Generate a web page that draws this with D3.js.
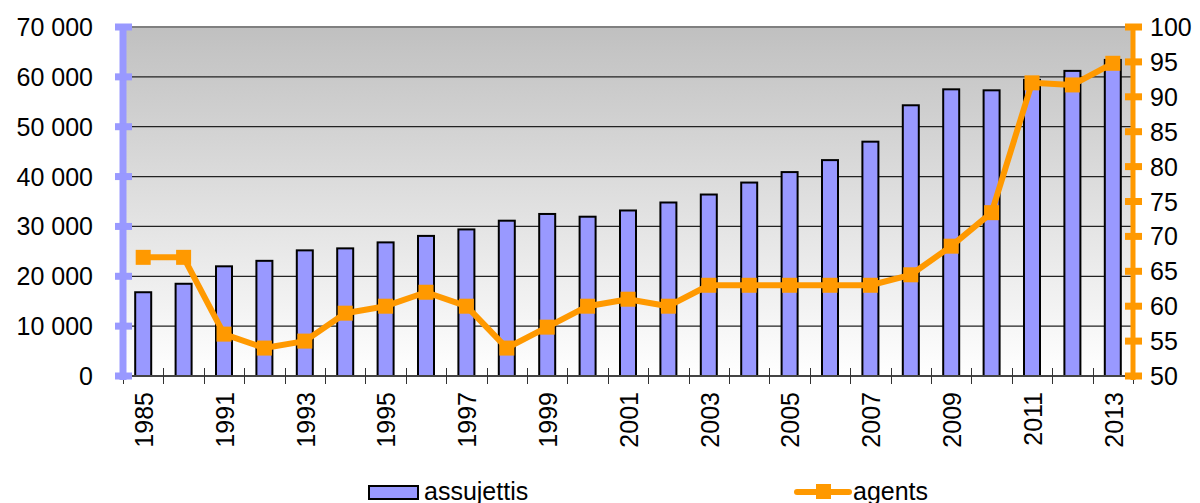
<!DOCTYPE html>
<meta charset="utf-8">
<style>
  body { margin: 0; background: #fff; }
  text { font-family: "Liberation Sans", Arial, sans-serif; fill: #000; }
  .grid line { stroke: #222; stroke-width: 1.2; }
  .bar { fill: #9999ff; stroke: #000; stroke-width: 2; }
  .agents { fill: none; stroke: #ff9900; stroke-width: 6; stroke-linejoin: round; }
  .marker { fill: #ff9900; }
</style>
<body>
<script src="https://d3js.org/d3.v7.min.js"></script>
<script>

  var years = ["1985", "1990", "1991", "1992", "1993", "1994", "1995", "1996", "1997", "1998",
    "1999", "2000", "2001", "2002", "2003", "2004", "2005", "2006", "2007", "2008",
    "2009", "2010", "2011", "2012", "2013"];
  var assujettis = [16800, 18500, 22000, 23100, 25200, 25600, 26800, 28100, 29400, 31150,
    32500, 31950, 33200, 34800, 36400, 38800, 40900, 43300, 47000, 54300,
    57500, 57300, 59400, 61200, 63400];
  var agents = [67, 67, 56, 54, 55, 59, 60, 62, 60, 54,
    57, 60, 61, 60, 63, 63, 63, 63, 63, 64.5,
    68.6, 73.4, 92, 91.7, 94.8];
  var leftTicks = [0, 10000, 20000, 30000, 40000, 50000, 60000, 70000];
  var rightTicks = [50, 55, 60, 65, 70, 75, 80, 85, 90, 95, 100];
  var xLabels = ["1985", "1991", "1993", "1995", "1997", "1999", "2001", "2003",
    "2005", "2007", "2009", "2011", "2013"];

  var width = 1200, height = 503,
    plotL = 123, plotR = 1133, plotT = 27, plotB = 376;

  var x = d3.scaleBand().domain(years).range([plotL, plotR]).padding(0);
  var y = d3.scaleLinear().domain([0, 70000]).range([plotB, plotT]);
  var y2 = d3.scaleLinear().domain([50, 100]).range([plotB, plotT]);

  var fmt = function (d) { return d3.format(",")(d).replace(/,/g, " "); };

  var svg = d3.select("body").append("svg")
    .attr("width", width)
    .attr("height", height);

  var defs = svg.append("defs");
  var grad = defs.append("linearGradient")
    .attr("id", "bg").attr("x1", 0).attr("y1", 0).attr("x2", 0).attr("y2", 1);
  grad.append("stop").attr("offset", "0%").attr("stop-color", "#c0c0c0");
  grad.append("stop").attr("offset", "100%").attr("stop-color", "#ffffff");

  svg.append("rect")
    .attr("x", plotL).attr("y", plotT)
    .attr("width", plotR - plotL).attr("height", plotB - plotT)
    .attr("fill", "url(#bg)");

  // grid
  svg.append("g").attr("class", "grid")
    .selectAll("line")
    .data(leftTicks.filter(function (d) { return d > 0 && d < 70000; }))
    .enter().append("line")
    .attr("x1", plotL).attr("x2", plotR)
    .attr("y1", function (d) { return y(d); })
    .attr("y2", function (d) { return y(d); });

  svg.append("line")
    .attr("x1", plotL).attr("x2", plotR)
    .attr("y1", y(70000)).attr("y2", y(70000))
    .attr("stroke", "#808080").attr("stroke-width", 2);

  // bars
  var barW = 16;
  svg.append("g")
    .selectAll("rect")
    .data(assujettis)
    .enter().append("rect")
    .attr("class", "bar")
    .attr("x", function (d, i) { return x(years[i]) + x.bandwidth() / 2 - barW / 2; })
    .attr("y", function (d) { return y(d); })
    .attr("width", barW)
    .attr("height", function (d) { return plotB - y(d); });

  // x axis
  svg.append("line")
    .attr("x1", plotL).attr("x2", plotR)
    .attr("y1", plotB).attr("y2", plotB)
    .attr("stroke", "#444").attr("stroke-width", 2);

  svg.append("g")
    .selectAll("line")
    .data(d3.range(years.length + 1))
    .enter().append("line")
    .attr("x1", function (i) { return Math.round(plotL + i * x.step()) + 0.5; })
    .attr("x2", function (i) { return Math.round(plotL + i * x.step()) + 0.5; })
    .attr("y1", plotB - 8).attr("y2", plotB + 8)
    .attr("stroke", "#333").attr("stroke-width", 1);

  svg.append("g")
    .selectAll("text")
    .data(xLabels)
    .enter().append("text")
    .attr("transform", function (d) {
      return "translate(" + (x(d) + x.bandwidth() / 2 + 1) + "," + 392 + ") rotate(-90)";
    })
    .attr("text-anchor", "end")
    .attr("dy", "0.35em")
    .style("font-size", "25px")
    .text(function (d) { return d; });

  // left axis
  var la = svg.append("g");
  la.append("line")
    .attr("x1", plotL).attr("x2", plotL)
    .attr("y1", plotT - 3).attr("y2", plotB + 4)
    .attr("stroke", "#9999ff").attr("stroke-width", 7);
  la.selectAll("rect")
    .data(leftTicks)
    .enter().append("rect")
    .attr("x", plotL - 8).attr("width", 17)
    .attr("y", function (d) { return y(d) - 3.5; })
    .attr("height", 7)
    .attr("fill", "#9999ff");
  la.selectAll("text")
    .data(leftTicks)
    .enter().append("text")
    .attr("x", 93)
    .attr("y", function (d) { return y(d); })
    .attr("dy", "0.36em")
    .attr("text-anchor", "end")
    .style("font-size", "25px")
    .text(fmt);

  // right axis
  var ra = svg.append("g");
  ra.append("line")
    .attr("x1", plotR).attr("x2", plotR)
    .attr("y1", plotT - 3).attr("y2", plotB + 4)
    .attr("stroke", "#ff9900").attr("stroke-width", 5);
  ra.selectAll("rect")
    .data(rightTicks)
    .enter().append("rect")
    .attr("x", plotR - 8).attr("width", 17)
    .attr("y", function (d) { return y2(d) - 3.5; })
    .attr("height", 7)
    .attr("fill", "#ff9900");
  ra.selectAll("text")
    .data(rightTicks)
    .enter().append("text")
    .attr("x", 1150)
    .attr("y", function (d) { return y2(d); })
    .attr("dy", "0.36em")
    .style("font-size", "25px")
    .text(function (d) { return d; });

  // agents line
  var line = d3.line()
    .x(function (d, i) { return x(years[i]) + x.bandwidth() / 2; })
    .y(function (d) { return y2(d); });

  svg.append("path")
    .datum(agents)
    .attr("class", "agents")
    .attr("d", line);

  var ms = 15;
  svg.append("g")
    .selectAll("rect")
    .data(agents)
    .enter().append("rect")
    .attr("class", "marker")
    .attr("x", function (d, i) { return x(years[i]) + x.bandwidth() / 2 - ms / 2; })
    .attr("y", function (d) { return y2(d) - ms / 2; })
    .attr("width", ms).attr("height", ms);

  // legend
  var lg = svg.append("g");
  lg.append("rect")
    .attr("class", "bar")
    .attr("x", 369).attr("y", 486).attr("width", 49).attr("height", 13);
  lg.append("text")
    .attr("x", 424).attr("y", 500)
    .style("font-size", "25px")
    .text("assujettis");

  lg.append("line")
    .attr("x1", 797).attr("x2", 849)
    .attr("y1", 492).attr("y2", 492)
    .attr("stroke", "#ff9900").attr("stroke-width", 6)
    .attr("stroke-linecap", "round");
  lg.append("rect")
    .attr("class", "marker")
    .attr("x", 816).attr("y", 484).attr("width", 15).attr("height", 15);
  lg.append("text")
    .attr("x", 853).attr("y", 500)
    .style("font-size", "25px")
    .text("agents");

</script>
</body>
